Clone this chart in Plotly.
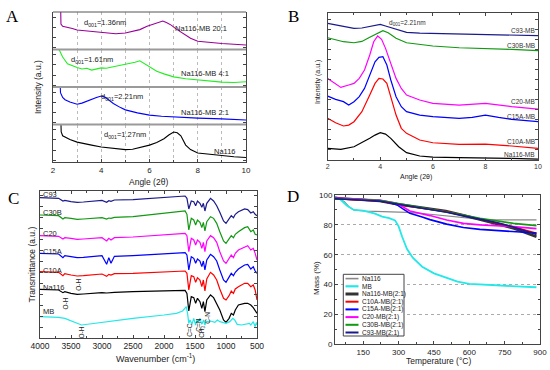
import plotly.graph_objects as go

W, H = 550, 370
def px(x): return x / W
def py(y): return 1 - y / H

FONT = "Liberation Sans, Arial, sans-serif"
SERIF = "Liberation Serif, Times New Roman, serif"

# ---------------- Panel A (XRD, stacked strips) ----------------
a_na116_x = [2.33, 2.34, 2.4, 2.5, 2.7, 3, 3.3, 3.6, 4, 4.3, 4.6, 5, 5.3, 5.6, 6, 6.3, 6.6, 6.8, 7, 7.15, 7.3, 7.5, 7.7, 8, 8.5, 9, 9.5, 10]
a_na116_y = [1.02, 0.8, 0.7, 0.66, 0.6, 0.53, 0.5, 0.45, 0.4, 0.38, 0.35, 0.33, 0.34, 0.38, 0.45, 0.52, 0.62, 0.72, 0.8, 0.78, 0.7, 0.45, 0.33, 0.24, 0.2, 0.16, 0.14, 0.12]
a_21_x = [2.3, 2.31, 2.4, 2.5, 2.7, 2.9, 3.0, 3.2, 3.5, 3.8, 4.0, 4.15, 4.3, 4.5, 4.8, 5, 5.5, 6, 6.5, 7, 8, 9, 10]
a_21_y = [1.02, 0.85, 0.72, 0.66, 0.6, 0.55, 0.54, 0.57, 0.65, 0.72, 0.76, 0.73, 0.66, 0.56, 0.45, 0.39, 0.31, 0.25, 0.22, 0.2, 0.17, 0.15, 0.12]
a_41_x = [2.25, 2.4, 2.6, 2.8, 3, 3.2, 3.4, 3.6, 3.8, 4, 4.2, 4.5, 4.8, 5, 5.2, 5.4, 5.6, 5.8, 6, 6.3, 6.6, 7, 7.5, 8, 8.5, 9, 9.5, 10]
a_41_y = [1.0, 0.8, 0.62, 0.56, 0.52, 0.48, 0.5, 0.45, 0.48, 0.51, 0.5, 0.54, 0.57, 0.6, 0.62, 0.66, 0.70, 0.62, 0.52, 0.42, 0.35, 0.27, 0.22, 0.19, 0.15, 0.13, 0.12, 0.14]
a_201_x = [2.32, 2.33, 2.4, 2.6, 2.8, 3, 3.3, 3.6, 4, 4.3, 4.6, 5, 5.3, 5.6, 5.9, 6.2, 6.4, 6.55, 6.7, 6.9, 7.1, 7.4, 7.7, 8, 8.5, 9, 9.5, 10]
a_201_y = [1.02, 0.68, 0.62, 0.6, 0.56, 0.52, 0.5, 0.47, 0.44, 0.43, 0.42, 0.44, 0.48, 0.53, 0.62, 0.68, 0.72, 0.76, 0.72, 0.65, 0.55, 0.42, 0.3, 0.22, 0.18, 0.16, 0.14, 0.12]
a_series = [("Na116", a_na116_x, a_na116_y, "#000000", "y"),
            ("Na116-MB 2:1", a_21_x, a_21_y, "#0000FF", "y2"),
            ("Na116-MB 4:1", a_41_x, a_41_y, "#22EE22", "y3"),
            ("Na116-MB 20:1", a_201_x, a_201_y, "#990099", "y4")]
a_labels = [("d<sub>001</sub>=1.27nm", 5.0, 0.72, "y"), ("Na116", 9.13, 0.27, "y"),
            ("d<sub>001</sub>=2.21nm", 4.86, 0.73, "y2"), ("Na116-MB 2:1", 8.3, 0.31, "y2"),
            ("d<sub>001</sub>=1.61nm", 3.6, 0.72, "y3"), ("Na116-MB 4:1", 8.3, 0.35, "y3"),
            ("d<sub>001</sub>=1.36nm", 4.15, 0.71, "y4"), ("Na116-MB 20:1", 8.14, 0.57, "y4")]

# ---------------- Panel B (XRD, offset curves) ----------------
b_c93_x = [2, 2.5, 3, 3.3, 3.6, 3.8, 4, 4.2, 4.5, 5, 5.5, 6, 7, 8, 9, 10]
b_c93_y = [92.8, 91, 89.4, 89.6, 90.5, 91.4, 92.1, 91, 89.4, 86.6, 86.2, 86, 85.5, 85.3, 84.9, 84.4]
b_c30b_x = [2, 2.3, 2.6, 3, 3.3, 3.6, 3.9, 4.1, 4.3, 4.6, 5, 5.5, 6, 7, 8, 9, 10]
b_c30b_y = [83.0, 81.9, 80.3, 79.6, 80.5, 83.3, 86.0, 87.8, 86.4, 82.6, 79.6, 78.5, 77.4, 76.2, 75.8, 75.1, 74.2]
b_c20_x = [2, 2.3, 2.5, 2.8, 3, 3.2, 3.4, 3.6, 3.75, 3.9, 4.05, 4.2, 4.4, 4.6, 4.8, 5, 5.5, 6, 7, 8, 9, 10]
b_c20_y = [55.4, 52.0, 49.3, 50.9, 52.0, 55.4, 61.1, 71.3, 80.3, 84.2, 81.9, 75.8, 65.6, 55.4, 48.6, 44.1, 40.7, 38.4, 37.3, 38.4, 36.2, 34.6]
b_c15a_x = [2, 2.3, 2.6, 2.8, 3, 3.2, 3.4, 3.6, 3.8, 3.95, 4.1, 4.25, 4.4, 4.6, 4.8, 5, 5.5, 6, 7, 7.5, 8, 8.5, 9, 10]
b_c15a_y = [43.4, 41.2, 39.6, 37.3, 39.6, 43.0, 48.6, 57.7, 66.7, 69.7, 70.1, 64.5, 54.3, 43.0, 36.2, 32.8, 30.5, 29.4, 28.3, 28.9, 30.5, 28.9, 27.6, 26.0]
b_c10a_x = [2, 2.3, 2.6, 2.8, 3, 3.3, 3.6, 3.8, 3.95, 4.1, 4.25, 4.4, 4.6, 4.8, 5, 5.5, 6, 7, 8, 9, 10]
b_c10a_y = [28.3, 25.3, 23.1, 23.7, 26.0, 32.8, 44.1, 52.0, 55.4, 55.0, 52.0, 43.0, 30.5, 21.5, 18.1, 13.6, 11.7, 10.6, 10.8, 9.5, 7.9]
b_na_x = [2, 2.5, 3, 3.3, 3.6, 3.8, 4, 4.2, 4.4, 4.7, 5, 5.5, 6, 7, 8, 9, 10]
b_na_y = [7.9, 7.2, 9.0, 11.7, 14.7, 16.9, 18.5, 17.6, 14.7, 9.0, 5.0, 2.7, 2.0, 1.6, 1.6, 1.1, 0.6]
b_series = [("C93-MB", b_c93_x, b_c93_y, "#1A1A8C", 87.8),
            ("C30B-MB", b_c30b_x, b_c30b_y, "#119911", 77.8),
            ("C20-MB", b_c20_x, b_c20_y, "#FF00FF", 39.6),
            ("C15A-MB", b_c15a_x, b_c15a_y, "#0000FF", 29.4),
            ("C10A-MB", b_c10a_x, b_c10a_y, "#FF0000", 12.9),
            ("Na116-MB", b_na_x, b_na_y, "#000000", 3.8)]

# ---------------- Panel C (FTIR) ----------------
c_wn = [4000, 3800, 3700, 3630, 3600, 3500, 3400, 3300, 3100, 3000, 2925, 2890, 2855, 2800, 2500, 2000, 1750, 1660, 1630, 1600,
        1560, 1520, 1490, 1460, 1420, 1390, 1365, 1340, 1310, 1250, 1200, 1150, 1100, 1040, 1000, 950, 915, 880, 850, 800,
        700, 650, 600, 560, 530, 500]
c_c93 = [421, 421, 419, 411, 413, 409, 407, 408, 411, 413, 407, 412, 410, 414, 415, 422, 426, 426, 419, 387, 411, 409, 397, 411, 404, 392, 404, 381, 404, 419, 411, 397, 377, 351, 344, 359, 367, 361, 371, 379, 387, 385, 375, 379, 371, 367]
c_c30b = [369, 369, 367, 357, 361, 359, 356, 357, 360, 361, 357, 360, 359, 362, 364, 374, 381, 381, 371, 324, 359, 354, 339, 354, 347, 331, 347, 321, 349, 364, 359, 344, 319, 291, 284, 297, 307, 301, 311, 319, 331, 334, 319, 324, 311, 309]
c_c20 = [307, 307, 305, 297, 301, 299, 296, 297, 299, 301, 291, 299, 294, 301, 303, 309, 314, 314, 307, 259, 299, 294, 279, 294, 287, 269, 287, 259, 291, 307, 301, 287, 259, 231, 224, 237, 249, 241, 254, 264, 274, 277, 264, 269, 254, 234]
c_c15a = [254, 254, 252, 241, 247, 244, 241, 242, 246, 247, 221, 241, 224, 245, 247, 253, 256, 256, 249, 204, 244, 239, 224, 237, 231, 214, 231, 204, 234, 251, 244, 231, 204, 174, 167, 181, 194, 187, 197, 207, 219, 221, 207, 214, 201, 194]
c_c10a = [199, 199, 197, 187, 193, 189, 186, 187, 191, 192, 185, 191, 189, 193, 194, 199, 201, 201, 194, 144, 187, 184, 167, 181, 174, 154, 174, 141, 177, 197, 189, 174, 147, 119, 114, 127, 141, 134, 147, 154, 164, 164, 154, 159, 144, 114]
c_na116 = [146, 146, 144, 136, 139, 134, 131, 132, 135, 136, 135, 136, 136, 137, 139, 141, 144, 143, 134, 81, 124, 121, 104, 119, 109, 89, 109, 79, 114, 129, 121, 104, 84, 54, 47, 59, 74, 69, 84, 99, 104, 104, 99, 91, 84, 74]
c_mb_wn = [4000, 3800, 3700, 3600, 3500, 3400, 3330, 3200, 3000, 2500, 2000, 1800, 1700, 1660, 1640, 1620, 1600, 1580, 1550, 1520,
           1490, 1470, 1440, 1420, 1390, 1360, 1340, 1320, 1250, 1180, 1140, 1100, 1060, 1000, 940, 890, 860, 820, 750, 670,
           620, 600, 560, 530, 510, 500]
c_mb = [64, 64, 62, 59, 51, 43, 39, 42, 47, 59, 69, 74, 81, 89, 94, 74, 44, 54, 41, 59, 39, 54, 49, 59, 41, 54, 39, 49, 51, 47, 54, 49, 47, 44, 49, 59, 54, 41, 39, 41, 44, 39, 49, 34, 47, 39]
c_series = [("C93", c_wn, c_c93, "#1A1A8C", 429), ("C30B", c_wn, c_c30b, "#119911", 377),
            ("C20", c_wn, c_c20, "#FF00FF", 314), ("C15A", c_wn, c_c15a, "#0000FF", 259),
            ("C10A", c_wn, c_c10a, "#FF0000", 204), ("Na116", c_wn, c_na116, "#000000", 152),
            ("MB", c_mb_wn, c_mb, "#22E8E8", 79)]
c_bands = [("O-H", 3380, 161), ("O-H", 3595, 104), ("O-H", 3336, 17),
           ("C=C", 1600, 24), ("C=N", 1455, 39), ("CH<sub>3</sub>", 1400, 19), ("C-N", 1290, 61)]

# ---------------- Panel D (TGA) ----------------
d_na116_t = [30, 50, 70, 90, 110, 150, 200, 300, 335, 400, 500, 600, 645, 700, 800, 885]
d_na116_m = [98.5, 97.5, 95.5, 92, 90, 89.3, 89, 88.6, 88.4, 87.6, 86.2, 84.5, 83.5, 83.4, 83.3, 83.3]
d_mb_t = [30, 50, 80, 110, 150, 200, 230, 260, 285, 300, 315, 335, 360, 400, 450, 500, 550, 600, 650, 700, 800, 885]
d_mb_m = [99, 97.5, 93, 90, 89.5, 87.5, 85.5, 84.5, 83, 79, 72, 64, 58, 52, 47.5, 44.5, 42, 40.5, 40, 39.5, 38.8, 38.2]
d_namb_t = [30, 100, 220, 300, 430, 500, 575, 645, 715, 790, 885]
d_namb_m = [98, 97.2, 96, 93.7, 90.6, 89.3, 86.5, 83.5, 81, 77.5, 72]
d_c10a_t = [30, 100, 220, 300, 430, 500, 575, 645, 715, 790, 885]
d_c10a_m = [97.5, 97, 96, 93.5, 90.5, 89, 86.5, 84, 81.5, 78.5, 74.3]
d_c15a_t = [30, 150, 250, 292, 320, 348, 400, 433, 504, 575, 645, 720, 787, 885]
d_c15a_m = [97.5, 97, 95.5, 93.5, 90.5, 87.7, 85.2, 83.5, 80.5, 78.2, 77, 76.3, 75.8, 74.5]
d_c20_t = [30, 218, 292, 348, 433, 504, 575, 645, 787, 885]
d_c20_m = [98, 96.7, 94.4, 89.3, 86.2, 83.3, 81, 80, 78.8, 77.5]
d_c30b_t = [30, 218, 292, 348, 433, 504, 575, 645, 716, 787, 885]
d_c30b_m = [97.5, 96.5, 94.4, 92.9, 90.6, 88.4, 86.6, 84.4, 82.6, 81, 79.5]
d_c93_t = [30, 218, 292, 348, 433, 504, 575, 645, 716, 787, 885]
d_c93_m = [97.5, 96, 94, 92.5, 90.2, 88.5, 86, 83.8, 81.5, 78.5, 73.5]
d_series = [("Na116", d_na116_t, d_na116_m, "#888888", 1.2),
            ("MB", d_mb_t, d_mb_m, "#22E8E8", 1.8),
            ("Na116-MB(2:1)", d_namb_t, d_namb_m, "#333333", 2.6),
            ("C10A-MB(2:1)", d_c10a_t, d_c10a_m, "#FF0000", 1.6),
            ("C15A-MB(2:1)", d_c15a_t, d_c15a_m, "#0000FF", 1.6),
            ("C20-MB(2:1)", d_c20_t, d_c20_m, "#FF00FF", 1.6),
            ("C30B-MB(2:1)", d_c30b_t, d_c30b_m, "#119911", 1.6),
            ("C93-MB(2:1)", d_c93_t, d_c93_m, "#1A1A8C", 1.6)]

fig = go.Figure()
ann = []
shapes = []

def note(**kw):
    kw.setdefault("xanchor", "center")
    kw.setdefault("yanchor", "middle")
    kw.setdefault("showarrow", False)
    ann.append(kw)

# ---- A traces
for name, xs, ys, col, yax in a_series:
    fig.add_trace(go.Scatter(x=xs, y=ys, mode="lines", name=name, xaxis="x", yaxis=yax,
                             line=dict(color=col, width=1.1), showlegend=False))
for txt, xv, yv, yax in a_labels:
    note(text=txt, x=xv, y=yv, xref="x", yref=yax, font=dict(size=7.5, color="#222", family=FONT))

# ---- B traces
for name, xs, ys, col, ly in b_series:
    fig.add_trace(go.Scatter(x=xs, y=ys, mode="lines", name=name, xaxis="x2", yaxis="y5",
                             line=dict(color=col, width=1.2), showlegend=False))
    note(text=name, x=9.95, y=ly, xref="x2", yref="y5", xanchor="right",
         font=dict(size=6.5, color="#333", family=FONT))
note(text="d<sub>001</sub>=2.21nm", x=5.05, y=92.8, xref="x2", yref="y5",
     font=dict(size=6.5, color="#333", family=FONT))

# ---- C traces
for name, xs, ys, col, ly in c_series:
    fig.add_trace(go.Scatter(x=xs, y=ys, mode="lines", name=name, xaxis="x3", yaxis="y6",
                             line=dict(color=col, width=1.2), showlegend=False))
    note(text=name, x=3985, y=ly, xref="x3", yref="y6", xanchor="left",
         font=dict(size=7.5, color="#222", family=FONT))
for txt, xv, yv in c_bands:
    note(text=txt, x=xv, y=yv, xref="x3", yref="y6", textangle=-90,
         font=dict(size=6.5, color="#222", family=FONT))

# ---- D traces
for name, xs, ys, col, w in d_series:
    fig.add_trace(go.Scatter(x=xs, y=ys, mode="lines", name=name, xaxis="x4", yaxis="y7",
                             line=dict(color=col, width=w), showlegend=False))

# manual compact legend for D
leg_x0, leg_x1, leg_y0, leg_y1 = 343.3, 404, 274.3, 336
shapes.append(dict(type="rect", xref="paper", yref="paper", x0=px(leg_x0), x1=px(leg_x1),
                   y0=py(leg_y1), y1=py(leg_y0), line=dict(color="#444", width=1), fillcolor="white", layer="above"))
for i, (name, xs, ys, col, w) in enumerate(d_series):
    yy = 278.6 + i * 7.7
    shapes.append(dict(type="line", xref="paper", yref="paper", x0=px(345.5), x1=px(358.5),
                       y0=py(yy), y1=py(yy), line=dict(color=col, width=w + 0.4), layer="above"))
    note(text=name, x=px(360), y=py(yy), xref="paper", yref="paper", xanchor="left",
         font=dict(size=6.5, color="#222", family=FONT))

# ---- A frame and separators
shapes.append(dict(type="line", xref="paper", yref="paper", x0=px(53), x1=px(246), y0=py(12), y1=py(12),
                   line=dict(color="#555", width=1), layer="above"))
for sep in [49.5, 87, 124.5]:
    shapes.append(dict(type="line", xref="paper", yref="paper", x0=px(53), x1=px(246), y0=py(sep), y1=py(sep),
                       line=dict(color="#9a9a9a", width=2.2), layer="above"))

# ---- panel letters and axis titles
for letter, lx, ly in [("A", 12, 17), ("B", 293, 16), ("C", 13, 198), ("D", 293, 196)]:
    note(text=letter, x=px(lx), y=py(ly), xref="paper", yref="paper",
         font=dict(size=17, color="#000", family=SERIF))
titles = [("Angle (2θ)", 148, 181.5, 0, 8.5), ("Intensity (a.u.)", 38, 87, -90, 8.5),
          ("Angle (2θ)", 416, 176.5, 0, 7), ("Intensity (a.u.)", 318, 82, -90, 7),
          ("Wavenumber (cm<sup>-1</sup>)", 155, 358, 0, 9), ("Transmittance (a.u.)", 31.5, 265, -90, 8.5),
          ("Temperature (°C)", 438, 360.5, 0, 8.5), ("Mass (%)", 316, 278, -90, 8)]
for txt, tx, ty, ang, fs in titles:
    note(text=txt, x=px(tx), y=py(ty), xref="paper", yref="paper", textangle=ang,
         font=dict(size=fs, color="#222", family=FONT))

axcommon = dict(showline=True, linecolor="#444", linewidth=1, ticks="inside", ticklen=3,
                tickcolor="#444", zeroline=False, automargin=False, showgrid=False,
                tickfont=dict(size=8, color="#222", family=FONT))

# strip domains for A
strips = [(162, 124.5), (124.5, 87), (87, 49.5), (49.5, 12)]
layout = dict(
    width=W, height=H, autosize=False, margin=dict(l=0, r=0, t=0, b=0),
    paper_bgcolor="white", plot_bgcolor="white", showlegend=False,
    xaxis=dict(axcommon, domain=[px(53), px(246)], range=[2, 10], anchor="y", dtick=2,
               showgrid=True, gridcolor="#bbbbbb", griddash="dot", gridwidth=1,
               minor=dict(dtick=1, showgrid=True, gridcolor="#bbbbbb", griddash="dot", ticks="inside", ticklen=2)),
    xaxis2=dict(axcommon, domain=[px(327.7), px(538)], range=[2, 10], anchor="y5", dtick=2, mirror="allticks",
                tickfont=dict(size=7, color="#333", family=FONT),
                minor=dict(dtick=1, ticks="inside", ticklen=2)),
    xaxis3=dict(axcommon, domain=[px(40), px(257)], range=[4000, 500], anchor="y6", dtick=500, mirror="allticks",
                tickfont=dict(size=8.5, color="#222", family=FONT),
                minor=dict(dtick=250, ticks="inside", ticklen=2)),
    xaxis4=dict(axcommon, domain=[px(335), px(540)], range=[30, 900], anchor="y7", tick0=0, dtick=150,
                mirror="allticks", minor=dict(dtick=75, ticks="inside", ticklen=2)),
    yaxis5=dict(axcommon, domain=[py(160), py(12.7)], range=[0, 100], anchor="x2", showticklabels=False,
                dtick=6.8, mirror="allticks"),
    yaxis6=dict(axcommon, domain=[py(338), py(191)], range=[0, 441], anchor="x3", showticklabels=False,
                dtick=33, mirror="allticks"),
    yaxis7=dict(axcommon, domain=[py(344.3), py(195)], range=[0, 100], anchor="x4", dtick=20,
                mirror="allticks", showgrid=True, gridcolor="#aaaaaa", griddash="dot",
                minor=dict(dtick=10, ticks="inside", ticklen=2)),
    annotations=ann, shapes=shapes,
)
for i, (b, t) in enumerate(strips):
    key = "yaxis" if i == 0 else f"yaxis{i + 1}"
    layout[key] = dict(axcommon, domain=[py(b), py(t)], range=[0, 1], anchor="x", showticklabels=False,
                       dtick=0.27, tick0=0.05, mirror="ticks")
fig.update_layout(**layout)
fig.write_html("out.html", config={"displayModeBar": False},
               post_script="document.body.style.margin='0';document.body.style.overflow='hidden';")
